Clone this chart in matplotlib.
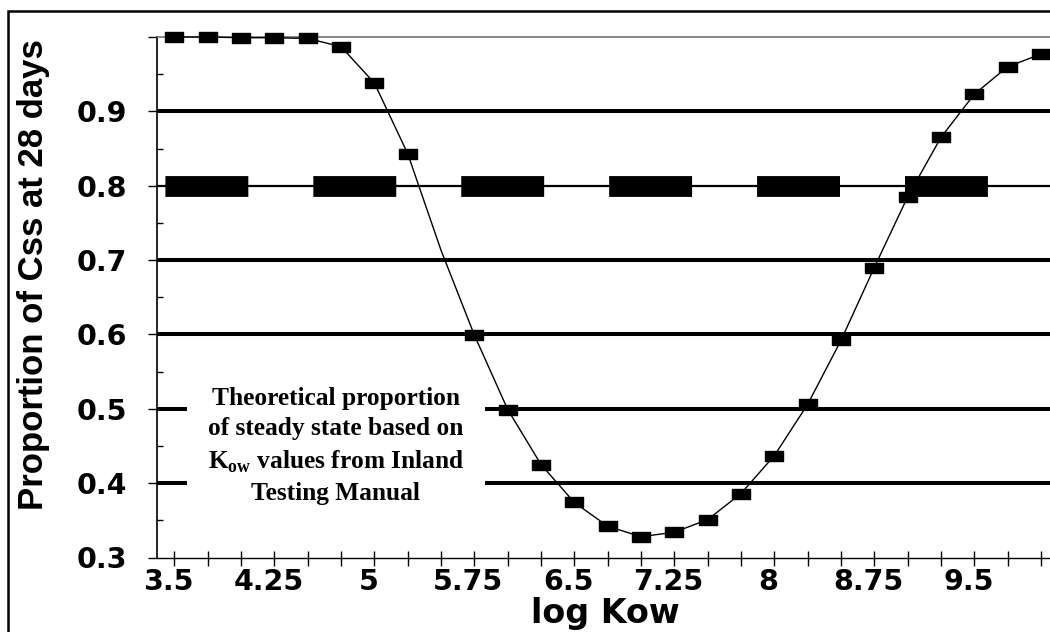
import numpy as np
import matplotlib
matplotlib.use("Agg")
import matplotlib.pyplot as plt
from matplotlib.patches import Rectangle
from matplotlib.transforms import ScaledTranslation

# log Kow steps and proportion of steady state reached after 28 days
log_kow = [3.5, 3.75, 4.0, 4.25, 4.5, 4.75, 5.0, 5.25, 5.5, 5.75, 6.0, 6.25, 6.5,
           6.75, 7.0, 7.25, 7.5, 7.75, 8.0, 8.25, 8.5, 8.75, 9.0, 9.25, 9.5, 9.75, 10.0]
proportion = [1.0, 1.0, 0.999, 0.999, 0.998, 0.987, 0.938, 0.843, 0.713, 0.599, 0.499,
              0.425, 0.374, 0.342, 0.328, 0.334, 0.351, 0.386, 0.437, 0.506, 0.592,
              0.690, 0.785, 0.865, 0.923, 0.960, 0.977]
no_marker = [5.5]  # point on the curve drawn without a marker

solid_levels = [0.9, 0.7, 0.6, 0.5, 0.4]
dashed_level = 0.8

ytick_vals = [0.3, 0.4, 0.5, 0.6, 0.7, 0.8, 0.9, 1.0]
ytick_text = ["0.3", "0.4", "0.5", "0.6", "0.7", "0.8", "0.9", ""]
xtick_vals = [3.5, 4.25, 5.0, 5.75, 6.5, 7.25, 8.0, 8.75, 9.5]
xtick_text = ["3.5", "4.25", "5", "5.75", "6.5", "7.25", "8", "8.75", "9.5"]

note = ("Theoretical proportion\nof steady state based on\n"
        "K$_{\\mathbf{ow}}$ values from Inland\nTesting Manual")

plt.rcParams["mathtext.fontset"] = "custom"
plt.rcParams["mathtext.rm"] = "Liberation Serif"
plt.rcParams["mathtext.bf"] = "Liberation Serif:bold"

fig = plt.figure(figsize=(10.5, 6.32), dpi=100)
ax = fig.add_axes([157 / 1050, 1 - 557.5 / 632, 1 - 157 / 1050, (557.5 - 37) / 632])

ax.set_xlim(3.369, 10.068)
ax.set_ylim(0.3, 1.0)

for lv in solid_levels:
    ax.axhline(lv, color="black", lw=2.9, zorder=1)
ax.axhline(dashed_level, color="black", lw=1.6, zorder=1)
ax.axhline(dashed_level, color="black", lw=15, linestyle=(6.72, (3.98, 3.12)),
           dash_capstyle="butt", zorder=1)

ax.text(4.71, 0.45, note, ha="center", va="center", family="Liberation Serif",
        weight="bold", fontsize=18.3, linespacing=1.4, zorder=3,
        bbox=dict(boxstyle="square,pad=0.83", fc="white", ec="none"))

ax.plot(log_kow, proportion, color="black", lw=1.0, zorder=4, clip_on=False)
marker_idx = [i for i, x in enumerate(log_kow) if x not in no_marker]
box = [(-1, -0.6), (1, -0.6), (1, 0.6), (-1, 0.6), (-1, -0.6)]
ax.plot(log_kow, proportion, linestyle="none", marker=box, markersize=13,
        color="black", markevery=marker_idx, zorder=5, clip_on=False)

ax.spines["right"].set_visible(False)
ax.spines["top"].set_color("#666666")
ax.spines["top"].set_linewidth(1.1)
ax.spines["left"].set_linewidth(1.2)
ax.spines["bottom"].set_linewidth(1.0)

ax.set_yticks(ytick_vals)
ax.set_yticklabels(ytick_text)
ax.set_yticks(np.arange(0.35, 1.0, 0.1), minor=True)
ax.tick_params(axis="y", which="major", direction="out", length=6.5, width=1.0, pad=15)
ax.tick_params(axis="y", which="minor", direction="in", length=4.3, width=1.0)

ax.set_xticks(xtick_vals)
ax.set_xticklabels(xtick_text)
ax.set_xticks(np.arange(3.5, 10.01, 0.25), minor=True)
ax.tick_params(axis="x", which="both", direction="inout", length=10.8, width=1.0, pad=2)

for lab in ax.get_xticklabels() + ax.get_yticklabels():
    lab.set_family("DejaVu Sans")
    lab.set_weight("bold")
    lab.set_fontsize(20.5)
shift = ScaledTranslation(-0.06, 0, fig.dpi_scale_trans)
for lab in ax.get_xticklabels():
    lab.set_transform(lab.get_transform() + shift)

ax.set_xlabel("log Kow", family="DejaVu Sans", weight="bold", fontsize=24)
ax.xaxis.set_label_coords(0.5017, -0.076)
ax.set_ylabel("Proportion of Css at 28 days", family="Liberation Sans",
              weight="bold", fontsize=25)
ax.yaxis.set_label_coords(-0.12, 0.5427)

# frame around the whole figure (right and bottom edges fall outside)
fig.add_artist(Rectangle((8 / 1050, -0.2), 1.3, 1.2 - 11 / 632 + 0.0,
                         transform=fig.transFigure, fill=False, ec="black",
                         lw=1.8, clip_on=False))

fig.savefig("out.png", dpi=100)
